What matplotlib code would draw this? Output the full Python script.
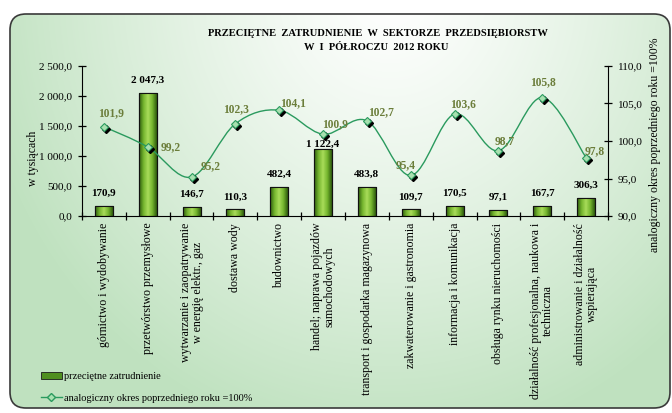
import numpy as np
import matplotlib
matplotlib.use('Agg')
import matplotlib.pyplot as plt
from matplotlib.patches import FancyBboxPatch, Rectangle
from matplotlib.path import Path
from matplotlib.patches import PathPatch
from matplotlib.lines import Line2D
from matplotlib.colors import LinearSegmentedColormap
import matplotlib.transforms as mtransforms

# dane
kategorie = [
    'górnictwo i wydobywanie',
    'przetwórstwo przemysłowe',
    'wytwarzanie i zaopatrywanie\nw energię elektr., gaz',
    'dostawa wody',
    'budownictwo',
    'handel; naprawa pojazdów\nsamochodowych',
    'transport i gospodarka magazynowa',
    'zakwaterowanie i gastronomia',
    'informacja i komunikacja',
    'obsługa rynku nieruchomości',
    'działalność profesjonalna, naukowa i\ntechniczna',
    'administrowanie i działalność\nwspierająca',
]
zatrudnienie = [170.9, 2047.3, 146.7, 110.3, 482.4, 1122.4, 483.8, 109.7, 170.5, 97.1, 167.7, 306.3]
dynamika = [101.9, 99.2, 95.2, 102.3, 104.1, 100.9, 102.7, 95.4, 103.6, 98.7, 105.8, 97.8]
# przesunięcia etykiet (w pikselach)
etyk_dx = [7, 23, 19, 1, 14, 12, 14, -5, 8, 6, 1, 9]
etyk_dy = [14, 0, 11, 15, 7, 10, 9, 10, 10, 10, 15, 6]
slupek_dy = [8, 8, 8, 8, 8, 0, 8, 8, 8, 8, 8, 8]


def pl(v):
    s = f'{v:,.1f}'
    return s.replace(',', ' ').replace('.', ',')


W, H = 672, 413
plt.rcParams['font.family'] = ['Liberation Serif', 'DejaVu Serif']
fig = plt.figure(figsize=(W / 100, H / 100), dpi=100)

# tło z gradientem
bg = fig.add_axes([0, 0, 1, 1], zorder=-5)
bg.set_xlim(0, W)
bg.set_ylim(H, 0)
bg.axis('off')
yy, xx = np.mgrid[0:H, 0:W]
d = np.sqrt(((xx - 390) / 420.0) ** 2 + ((yy + 10) / 460.0) ** 2)
d = np.clip(d, 0, 1) ** 1.2
c0 = np.array([1.0, 1.0, 1.0])
c1 = np.array([0.75, 0.885, 0.75])
img = c0[None, None, :] * (1 - d[..., None]) + c1[None, None, :] * d[..., None]
ramka = FancyBboxPatch((10, 14), 660, 394, boxstyle='round,pad=0,rounding_size=16',
                       facecolor='none', edgecolor='#3a3a3a', linewidth=1.2)
im = bg.imshow(img, extent=(0, W, H, 0), aspect='auto')
bg.add_patch(ramka)
im.set_clip_path(ramka)

# osie
ax = fig.add_axes([82 / W, 1 - 216 / H, (608 - 82) / W, (216 - 66) / H])
ax.patch.set_alpha(0)
x = np.arange(len(kategorie))
ax.set_yticks(np.arange(0, 2501, 500))
ax.set_yticklabels([pl(v) for v in np.arange(0, 2501, 500)], fontsize=8)
ax.set_xticks(np.arange(-0.5, len(kategorie), 1))
ax.set_xticklabels([])
ax.tick_params(axis='both', direction='inout', length=6, width=0.9)
ax.tick_params(axis='y', pad=4)
ax.spines['top'].set_visible(False)
ax.spines['right'].set_visible(False)

# słupki z gradientem
cmap = LinearSegmentedColormap.from_list('g', ['#2d5a0e', '#74b52e', '#a9dc5a', '#74b52e', '#2d5a0e'])
grad = np.linspace(0, 1, 64).reshape(1, -1)
bars = ax.bar(x, zatrudnienie, width=0.41, facecolor='#6fae2c', edgecolor='#111111', linewidth=0.8, zorder=2)
for b in bars:
    gi = ax.imshow(grad, cmap=cmap, aspect='auto', zorder=2.1,
                   extent=(b.get_x(), b.get_x() + b.get_width(), 0, b.get_height()))
    gi.set_clip_path(b)
    ax.add_patch(Rectangle((b.get_x(), 0), b.get_width(), b.get_height(), facecolor='none',
                           edgecolor='#111111', linewidth=0.8, zorder=2.2))
for xi, v, dy in zip(x, zatrudnienie, slupek_dy):
    ax.annotate(pl(v), (xi, v), xytext=(0, dy * 0.72), textcoords='offset points',
                ha='center', va='bottom', fontsize=8, fontweight='bold', zorder=5)
ax.set_ylim(0, 2500)
ax.set_xlim(-0.5, len(kategorie) - 0.5)

# etykiety kategorii
for xi, k in zip(x, kategorie):
    ax.text(xi, -0.045, k, transform=ax.get_xaxis_transform(), rotation=90,
            ha='center', va='top', fontsize=8.6, multialignment='center', linespacing=1.0)

fig.text(33 / W, 1 - 158 / H, 'w tysiącach', rotation=90, ha='center', va='center', fontsize=8.5)

# druga oś
ax2 = ax.twinx()
ax2.set_ylim(90, 110)
ax2.set_yticks(np.arange(90, 110.1, 5))
ax2.set_yticklabels([pl(v) for v in np.arange(90, 110.1, 5)], fontsize=8)
ax2.tick_params(axis='y', direction='inout', length=6, width=0.9, pad=4)
for s in ['top', 'left', 'bottom']:
    ax2.spines[s].set_visible(False)
fig.text(655 / W, 1 - 145 / H, 'analogiczny okres poprzedniego roku =100%', rotation=90,
         ha='center', va='center', fontsize=8.5)

# wygładzona linia (krzywe Beziera przez punkty danych)
P = np.column_stack([x, dynamika]).astype(float)
n = len(P)
verts = [P[0]]
codes = [Path.MOVETO]
for i in range(n - 1):
    p0 = P[max(i - 1, 0)]
    p1 = P[i]
    p2 = P[i + 1]
    p3 = P[min(i + 2, n - 1)]
    verts += [p1 + (p2 - p0) / 6, p2 - (p3 - p1) / 6, p2]
    codes += [Path.CURVE4] * 3
ax2.add_patch(PathPatch(Path(verts, codes), facecolor='none', edgecolor='#2a9a5e', linewidth=1.0, zorder=3))
cien = mtransforms.offset_copy(ax2.transData, fig=fig, x=2, y=-2, units='dots')
ax2.plot(x, dynamika, linestyle='none', marker='D', markersize=4, color='black', transform=cien, zorder=3.5)
ax2.plot(x, dynamika, linestyle='none', marker='D', markersize=4, markerfacecolor='#a8e0b0',
         markeredgecolor='#2a9a5e', markeredgewidth=0.8, zorder=4)
for xi, v, dx, dy in zip(x, dynamika, etyk_dx, etyk_dy):
    ax2.annotate(pl(v), (xi, v), xytext=(dx * 0.72, dy * 0.72), textcoords='offset points',
                 ha='center', va='center', fontsize=8.3, fontweight='bold', color='#6b7d3a', zorder=6)

# tytuł
fig.text(378 / W, 1 - 34 / H, 'PRZECIĘTNE  ZATRUDNIENIE  W  SEKTORZE  PRZEDSIĘBIORSTW',
         ha='center', va='center', fontsize=7.6, fontweight='bold')
fig.text(376 / W, 1 - 47 / H, 'W  I  PÓŁROCZU  2012 ROKU',
         ha='center', va='center', fontsize=7.6, fontweight='bold')

# legenda
uchwyty = [Rectangle((0, 0), 1, 1, facecolor='#4f8f1f', edgecolor='#1a1a1a', linewidth=0.6),
           Line2D([0], [0], color='#2a9a5e', linewidth=1.0, marker='D', markersize=4,
                  markerfacecolor='#a8e0b0', markeredgecolor='#2a9a5e')]
fig.legend(uchwyty, ['przeciętne zatrudnienie', 'analogiczny okres poprzedniego roku =100%'],
           loc='upper left', bbox_to_anchor=(41 / W, 1 - 372 / H), frameon=False,
           fontsize=7.5, labelspacing=1.15, handlelength=2.0, handletextpad=0.25,
           borderaxespad=0, borderpad=0)

fig.savefig('out.png', dpi=100)
